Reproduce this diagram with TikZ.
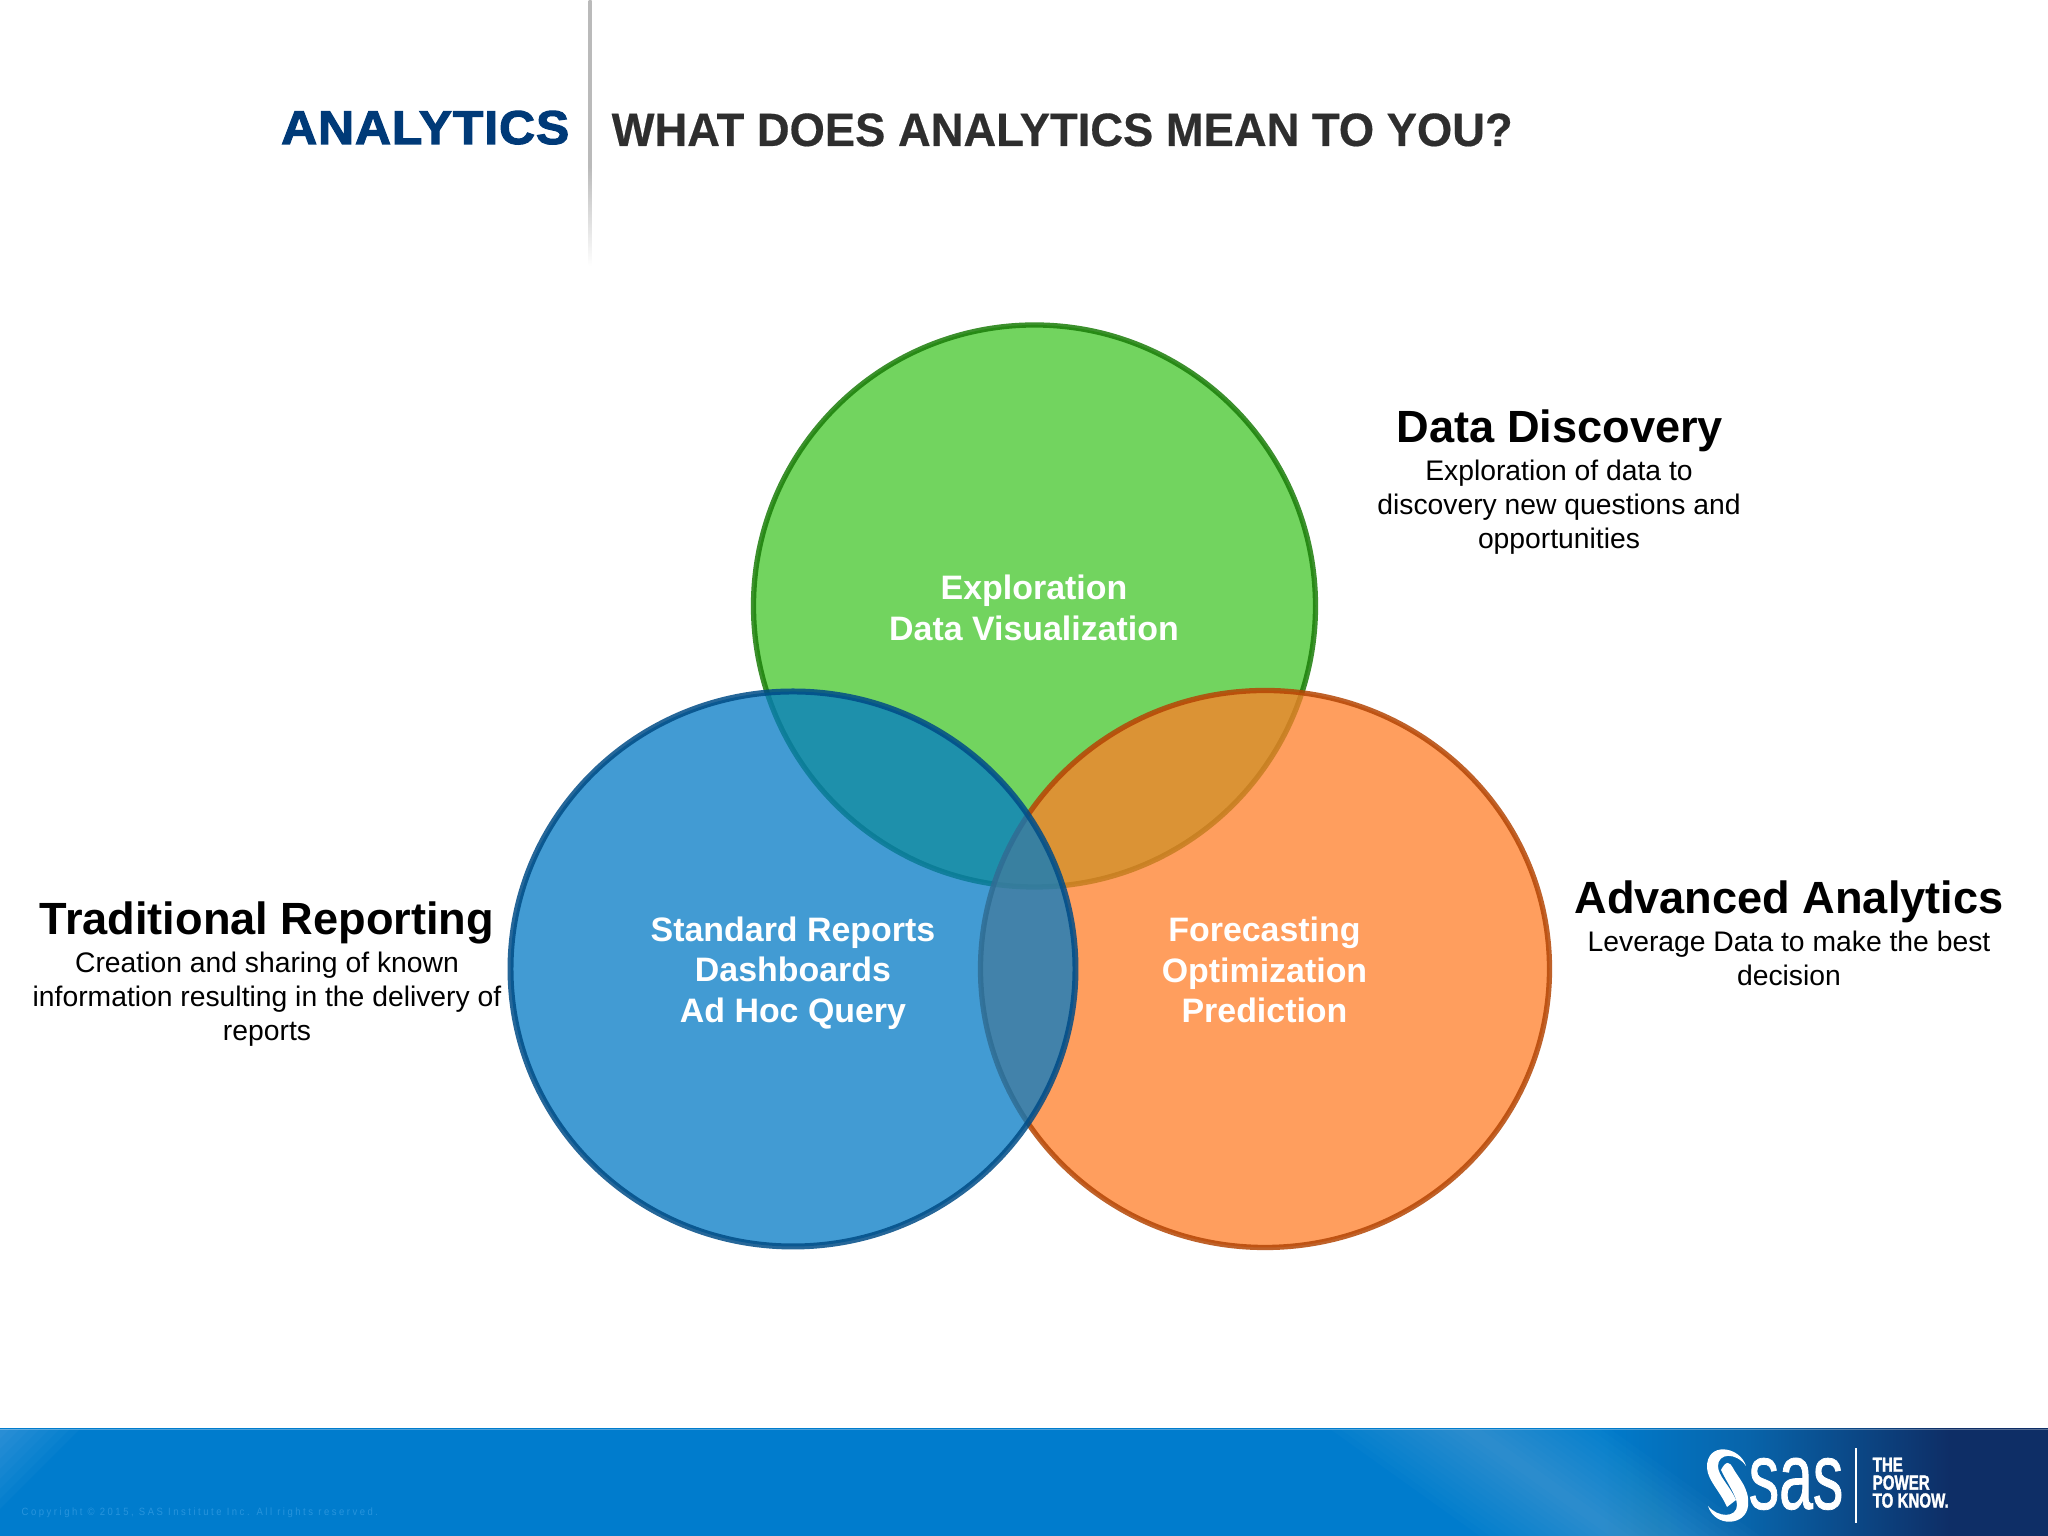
\documentclass[tikz,border=0pt]{standalone}
\usepackage{fontspec}
\setmainfont{Liberation Sans}
\usetikzlibrary{shapes.geometric}
\newfontfamily\widefont[FakeStretch=1.05,FakeBold=2.4,LetterSpace=2]{Liberation Sans Bold}
\newfontfamily\headfont[FakeStretch=0.97,FakeBold=0.4]{Liberation Sans Bold}
\newfontfamily\sasfont[FakeStretch=0.64,FakeBold=0.8]{Liberation Sans}
\newfontfamily\tagfont[FakeStretch=0.74,FakeBold=1.5]{Liberation Sans Bold}
\newfontfamily\copyfont[FakeStretch=0.9,LetterSpace=24]{Liberation Sans}
\definecolor{greenfill}{RGB}{67,198,42}
\definecolor{greenline}{RGB}{26,125,8}
\definecolor{bluefill}{RGB}{3,122,196}
\definecolor{blueline}{RGB}{0,76,135}
\definecolor{orangefill}{RGB}{255,126,40}
\definecolor{orangeline}{RGB}{180,70,5}
\definecolor{navy}{RGB}{0,58,120}
\definecolor{darkgrey}{RGB}{46,46,46}
\definecolor{rulegrey}{RGB}{186,186,186}
\definecolor{bandblue}{RGB}{0,124,205}
\definecolor{bandmid}{RGB}{8,100,170}
\definecolor{banddark}{RGB}{14,46,102}
\definecolor{copygrey}{RGB}{40,148,220}
\pgfdeclarehorizontalshading{footerband}{100bp}{color(0bp)=(bandblue);
    color(25bp)=(bandblue);
    color(64bp)=(bandblue);
    color(67.7bp)=(bandmid);
    color(72.6bp)=(banddark);
    color(100bp)=(banddark)}
\pgfdeclareverticalshading{headerrule}{100bp}{color(0bp)=(white);
    color(25bp)=(white);
    color(43.7bp)=(rulegrey);
    color(100bp)=(rulegrey)}
\tikzset{
    venn/.style={ellipse,inner sep=0pt,fill opacity=0.75,draw opacity=0.85},
    venntext/.style={text=white,align=center,inner sep=0pt,font=\fontsize{9.65}{11.5}\selectfont\bfseries},
    sidetext/.style={align=center,text=black,inner sep=0pt,font=\fontsize{8.05}{9.7}\selectfont},
    sidehead/.style={text=black,inner sep=0pt,font=\fontsize{12.85}{14}\selectfont\bfseries},
}
\begin{document}
\begin{tikzpicture}

    \useasboundingbox (0,0) rectangle (20.48,15.36);

    \shade[shading=headerrule] (5.885,12.7) rectangle (5.915,15.36);

    \node[anchor=base east,inner sep=0pt,text=navy,font=\fontsize{13.5}{14}\widefont] (section) at (5.70,13.92) {ANALYTICS};
    \node[anchor=base west,inner sep=0pt,text=darkgrey,font=\fontsize{13.3}{14}\headfont] (title) at (6.11,13.90) {WHAT DOES ANALYTICS MEAN TO YOU?};

    \node[venn,draw=greenline,fill=greenfill,line width=1.5pt,minimum width=5.62cm,minimum height=5.62cm] (discovery) at (10.345,9.30) {};
    \node[venn,draw=orangeline,fill=orangefill,line width=1.5pt,minimum width=5.69cm,minimum height=5.57cm] (advanced) at (12.65,5.67) {};
    \node[venn,draw=blueline,fill=bluefill,line width=1.7pt,minimum width=5.65cm,minimum height=5.55cm] (reporting) at (7.93,5.67) {};

    \node[venntext] (discoverylabel) at (10.34,9.28) {Exploration\\Data Visualization};
    \node[venntext] (advancedlabel) at (12.645,5.657) {Forecasting\\Optimization\\Prediction};
    \node[venntext] (reportinglabel) at (7.93,5.63) {Standard Reports\\Dashboards\\Ad Hoc Query};

    \node[sidehead] (discoveryhead) at (15.60,11.05) {Data Discovery};
    \node[sidetext,anchor=north] (discoverytext) at (15.59,10.77) {Exploration of data to\\discovery new questions and\\opportunities};

    \node[sidehead] (advancedhead) at (17.89,6.34) {Advanced Analytics};
    \node[sidetext,anchor=north] (advancedtext) at (17.89,6.06) {Leverage Data to make the best\\decision};

    \node[sidehead] (reportinghead) at (2.67,6.13) {Traditional Reporting};
    \node[sidetext,anchor=north] (reportingtext) at (2.67,5.85) {Creation and sharing of known\\information resulting in the delivery of\\reports};

    % footer band
    \shade[shading=footerband] (0,0) rectangle (20.48,1.07);
    \begin{scope}
        \clip (0,0) rectangle (20.48,1.07);
        \foreach \w in {0.1,0.2,...,1.4}
            \fill[white,opacity=0.016] (14.7-\w,1.07) -- (14.7+\w,1.07) -- (16.2+\w,0) -- (16.2-\w,0) -- cycle;
        \foreach \w in {0.1,0.2,...,0.8}
            \fill[white,opacity=0.025] (0,1.07) -- (\w,1.07) -- (0,1.07-\w) -- cycle;
    \end{scope}
    \fill[white,opacity=0.3] (0,1.06) rectangle (20.48,1.07);

    \node[anchor=base west,inner sep=0pt,text=copygrey,font=\fontsize{3}{4}\copyfont] (copyright) at (0.21,0.2) {Copyright \textcopyright{} 2015, SAS Institute Inc. All rights reserved.};

    % logo
    \fill[white] (17.46,.70) .. controls (17.40,.90) and (17.06,.95) .. (17.07,.68) .. controls (17.08,.55) and (17.20,.45) .. (17.27,.29) -- (17.36,.36) .. controls (17.30,.50) and (17.18,.60) .. (17.18,.70) .. controls (17.18,.83) and (17.36,.84) .. cycle;
    \fill[white] (17.21,.66) .. controls (17.26,.76) and (17.30,.74) .. (17.33,.68) .. controls (17.38,.58) and (17.50,.48) .. (17.48,.30) .. controls (17.46,.10) and (17.15,.08) .. (17.08,.30) .. controls (17.18,.18) and (17.37,.18) .. (17.37,.31) .. controls (17.37,.40) and (17.26,.55) .. cycle;
    \node[anchor=base,inner sep=0pt,text=white,font=\fontsize{27}{27}\sasfont] (sas) at (17.96,0.27) {sas};
    \draw[white,line width=0.3pt] (18.56,0.13) -- (18.56,0.88);
    \node[anchor=north west,inner sep=0pt,text=white,align=left,font=\fontsize{5.8}{5.1}\tagfont] (tagline) at (18.72,0.79) {THE\\POWER\\TO KNOW.};

\end{tikzpicture}
\end{document}
